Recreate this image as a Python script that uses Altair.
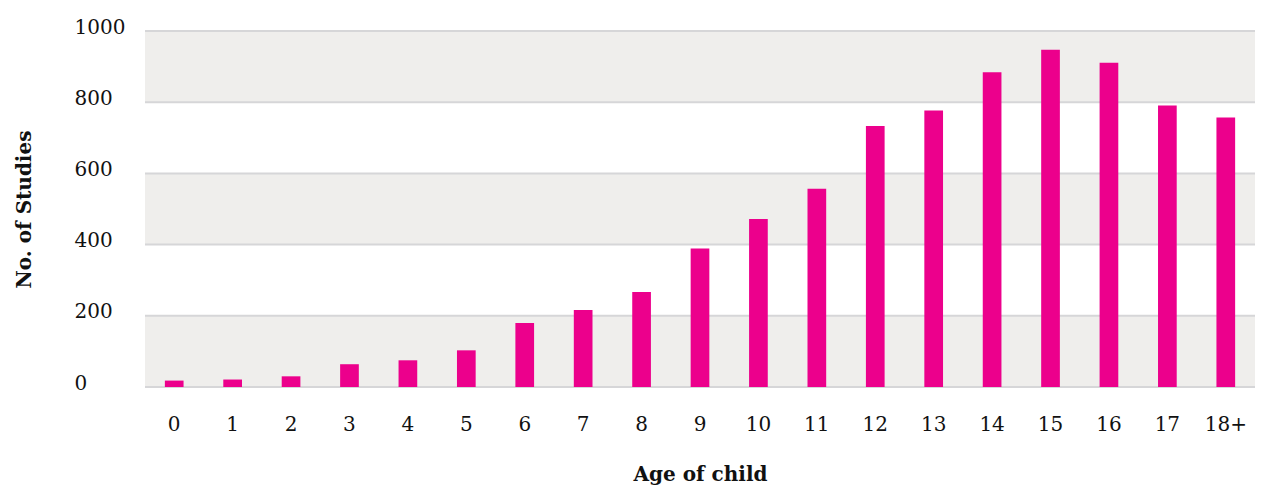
import altair as alt
import pandas as pd

ages = ["0", "1", "2", "3", "4", "5", "6", "7", "8", "9", "10", "11", "12",
        "13", "14", "15", "16", "17", "18+"]
studies = [18, 21, 30, 64, 75, 103, 180, 216, 267, 389, 472, 557, 733,
           777, 884, 947, 911, 791, 757]
band_lo = [0, 400, 800]
band_hi = [200, 600, 1000]
grid_vals = [0, 200, 400, 600, 800, 1000]

bars_df = pd.DataFrame({"age": ages, "n": studies})
bands_df = pd.DataFrame({"lo": band_lo, "hi": band_hi})
grid_df = pd.DataFrame({"v": grid_vals})

FONT = "DejaVu Serif"
yscale = alt.Scale(domain=[0, 1000], nice=False)

bands = alt.Chart(bands_df).mark_rect(color="#efeeec").encode(
    y=alt.Y("lo:Q", scale=yscale),
    y2="hi:Q",
)

grid = alt.Chart(grid_df).mark_rule(color="#d6d6d8", strokeWidth=2).encode(
    y=alt.Y("v:Q", scale=yscale),
)

bars = alt.Chart(bars_df).mark_bar(color="#EC008C").encode(
    x=alt.X("age:N", sort=ages,
            scale=alt.Scale(paddingInner=0.68, paddingOuter=0.34),
            axis=alt.Axis(title="Age of child", labelAngle=0, ticks=False, tickSize=0,
                          domain=False, grid=False, labelFont=FONT, labelFontSize=20,
                          labelColor="#111", labelBaseline="alphabetic", labelPadding=43,
                          titleFont=FONT, titleFontSize=20, titleFontWeight="bold",
                          titleColor="#111", titleBaseline="alphabetic", titleY=93)),
    y=alt.Y("n:Q", scale=yscale,
            axis=alt.Axis(title="No. of Studies", values=grid_vals, format="d",
                          ticks=False, tickSize=0,
                          domain=False, grid=False, labelFont=FONT, labelFontSize=20,
                          labelColor="#111", labelAlign="left", labelPadding=71,
                          labelBaseline="alphabetic", labelOffset=2,
                          titleFont=FONT, titleFontSize=20, titleFontWeight="bold",
                          titleColor="#111", titleBaseline="alphabetic",
                          titleX=-115, titleY=178, titleAngle=-90)),
)

chart = alt.layer(bands, grid, bars).properties(
    width=1110, height=356,
    autosize=alt.AutoSizeParams(type="none"),
    padding={"left": 137, "top": 23, "right": 0, "bottom": 98},
).configure_view(stroke=None)

chart.save("out.html", embed_options={"renderer": "svg", "actions": False})
